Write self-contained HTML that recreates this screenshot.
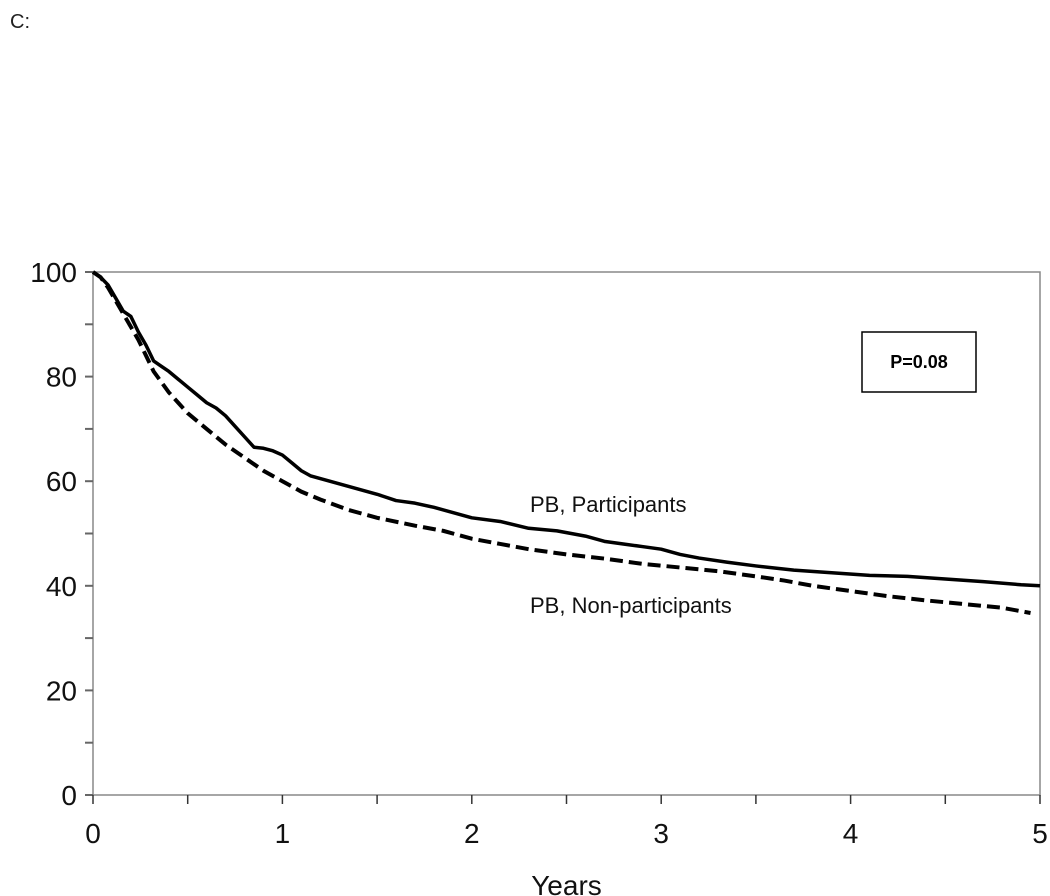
<!DOCTYPE html>
<html><head><meta charset="utf-8"><style>
body{margin:0;background:#fff;width:1050px;height:896px;overflow:hidden;font-family:"Liberation Sans",sans-serif}
svg{position:absolute;left:0;top:0}
</style></head><body>
<svg id="chart" width="1050" height="896">
<text x="10" y="28" font-size="20" fill="#222">C:</text>
</svg>
<script>
const xTicks=[0,1,2,3,4,5];
const yTicks=[0,20,40,60,80,100];
const partT=[0,0.04,0.08,0.12,0.16,0.2,0.24,0.28,0.32,0.36,0.4,0.45,0.5,0.55,0.6,0.65,0.7,0.75,0.8,0.85,0.9,0.95,1.0,1.05,1.1,1.15,1.2,1.3,1.4,1.5,1.6,1.7,1.8,1.9,2.0,2.15,2.3,2.45,2.6,2.7,2.8,2.9,3.0,3.1,3.2,3.35,3.5,3.7,3.9,4.1,4.3,4.5,4.7,4.9,5.0];
const partS=[100,99,97.5,95,92.5,91.5,88.5,86,83,82,81,79.5,78,76.5,75,74,72.5,70.5,68.5,66.5,66.3,65.8,65,63.5,62,61,60.5,59.5,58.5,57.5,56.3,55.8,55,54,53,52.3,51,50.5,49.5,48.5,48,47.5,47,46,45.3,44.5,43.8,43,42.5,42,41.8,41.3,40.8,40.2,40];
const nonT=[0,0.04,0.08,0.12,0.16,0.2,0.24,0.28,0.32,0.36,0.4,0.45,0.5,0.55,0.6,0.7,0.8,0.9,1.0,1.1,1.2,1.35,1.5,1.7,1.85,2.0,2.15,2.3,2.5,2.7,2.9,3.1,3.3,3.5,3.65,3.8,4.0,4.2,4.4,4.6,4.8,4.95];
const nonS=[100,99,97,94.5,92,89.5,87,84,81,79,77,75,73,71.5,70,67,64.5,62,60,58,56.5,54.5,53,51.5,50.5,49,48,47,46,45.2,44.2,43.5,42.8,41.8,41,40,39,38,37.2,36.5,35.8,34.8];
const X=v=>93+v*189.4, Y=v=>795-v*5.23;
const svg=document.getElementById('chart');const NS='http://www.w3.org/2000/svg';
function mk(t,a,p){const e=document.createElementNS(NS,t);for(const k in a)e.setAttribute(k,a[k]);(p||svg).appendChild(e);return e;}
const frame=mk('rect',{x:X(0),y:Y(100),width:X(5)-X(0),height:Y(0)-Y(100),fill:'none',stroke:'#888','stroke-width':1.5});


for(let v=0;v<=100;v+=10){const l=mk('line',{x1:X(0)-8,x2:X(0),y1:Y(v),y2:Y(v),stroke:'#666','stroke-width':2});

}
for(let v=0;v<=5;v+=0.5){const l=mk('line',{x1:X(v),x2:X(v),y1:Y(0),y2:Y(0)+9,stroke:'#333','stroke-width':1.5});

}
yTicks.forEach(v=>{const t=mk('text',{x:X(0)-16,y:Y(v)+10,'text-anchor':'end','font-size':28,fill:'#111'});t.textContent=v;

});
xTicks.forEach(v=>{const t=mk('text',{x:X(v),y:843,'text-anchor':'middle','font-size':28,fill:'#111'});t.textContent=v;

});
const xt=mk('text',{x:X(2.5),y:895,'text-anchor':'middle','font-size':28,fill:'#111'});xt.textContent='Years';


function line(T,S){let d='M'+X(T[0])+','+Y(S[0]);for(let i=1;i<T.length;i++){d+=' L'+X(T[i])+','+Y(S[i]);}return d;}
const p1=mk('path',{d:line(partT,partS),fill:'none',stroke:'#000','stroke-width':3.5,'stroke-linejoin':'round'});


const p2=mk('path',{d:line(nonT,nonS),fill:'none',stroke:'#000','stroke-width':4,'stroke-dasharray':'13,6'});


const l1=mk('text',{x:530,y:512,'font-size':22,fill:'#111'});l1.textContent='PB, Participants';


const l2=mk('text',{x:530,y:613,'font-size':22,fill:'#111'});l2.textContent='PB, Non-participants';


const g=mk('g',{});


mk('rect',{x:862,y:332,width:114,height:60,fill:'#fff',stroke:'#000','stroke-width':1.5},g);
const pt=mk('text',{x:919,y:368,'text-anchor':'middle','font-size':18,'font-weight':'bold',fill:'#000'},g);pt.textContent='P=0.08';
</script>
</body></html>
